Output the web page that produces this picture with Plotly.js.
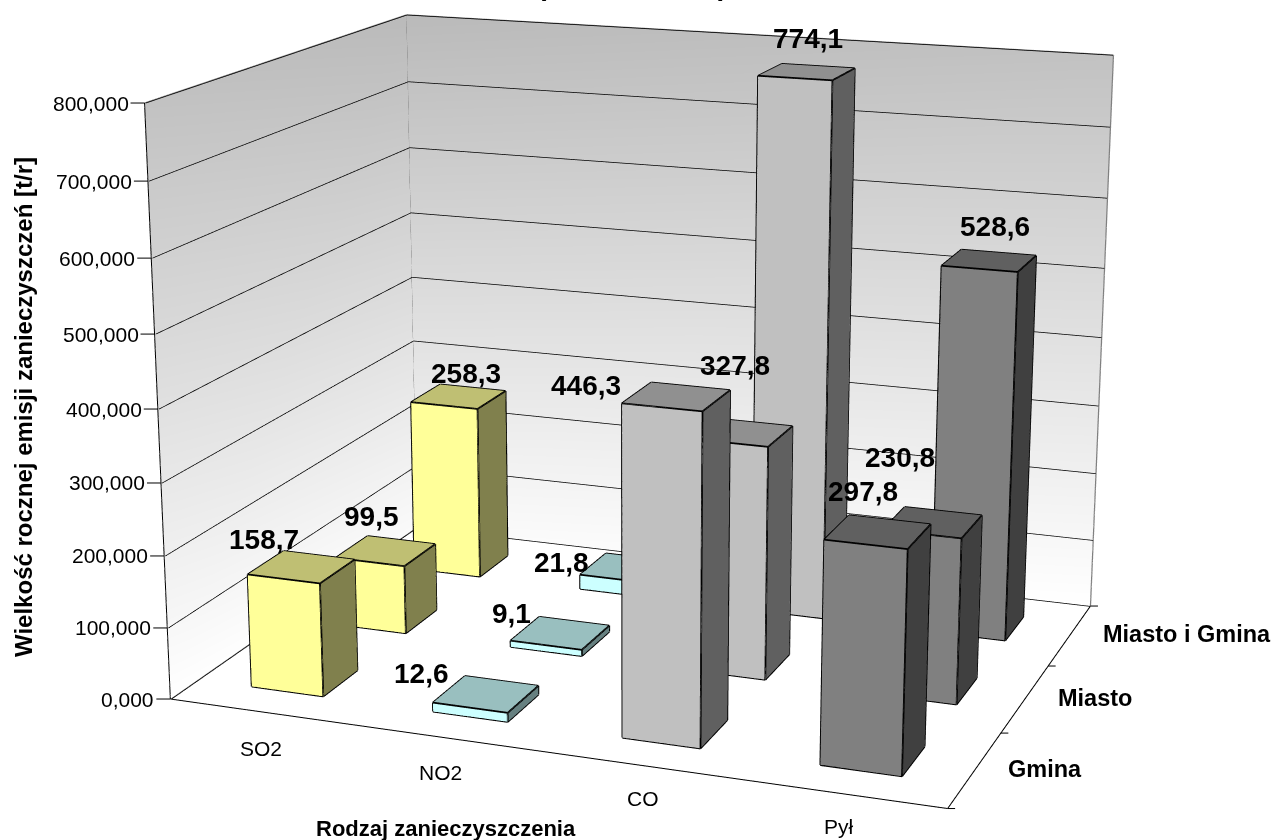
<!DOCTYPE html>
<html lang="pl">
<head>
<meta charset="utf-8">
<title>Wielkość rocznej emisji zanieczyszczeń</title>
<script src="https://cdn.plot.ly/plotly-3.0.1.min.js"></script>
<style>
  html, body { margin: 0; padding: 0; background: #fff; overflow: hidden; width: 1274px; height: 840px; }
  /* The tall plot area narrows the 45 degree view cone of the 3D scene. */
  #chart { position: absolute; left: 0; top: -880px; width: 1274px; height: 2600px; }
</style>
</head>
<body>
<div id="chart"></div>
<script>
// Pollutants along the front edge, municipalities along the depth axis.
const categories = ['SO2', 'NO2', 'CO', 'Pył'];
const seriesNames = ['Gmina', 'Miasto', 'Miasto i Gmina'];

const gmina = [158.7, 12.6, 446.3, 297.8];
const miasto = [99.5, 9.1, 327.8, 230.8];
const miastoIGmina = [258.3, 21.8, 774.1, 528.6];

const valueTicks = [0, 100, 200, 300, 400, 500, 600, 700, 800];
const valueTickLabels = ['0,000', '100,000', '200,000', '300,000', '400,000', '500,000', '600,000', '700,000', '800,000'];

const seriesValues = [gmina, miasto, miastoIGmina];
const comma = v => v.toFixed(1).replace('.', ',');

// Face colours of the bars, one set per pollutant.
const faceColors = [
  { front: '#FFFF99', top: '#BFBF73', side: '#80804D' },
  { front: '#CCFFFF', top: '#99BFBF', side: '#668080' },
  { front: '#C0C0C0', top: '#909090', side: '#606060' },
  { front: '#808080', top: '#606060', side: '#404040' }
];

// Pixel offset of each value label from the centre of its bar's top, [series][pollutant].
const labelShift = [
  [[-37, -27], [-64, -21], [-90, -11], [-15, -40]],
  [[-14, -34], [-49, -20], [-8, -67], [-33, -65]],
  [[7, -23], [-65, -5], [1, -33], [6, -34]]
];

const BAR_HALF = 0.2;
const FLAT = { ambient: 1, diffuse: 0, specular: 0, roughness: 1, fresnel: 0 };
const TEXT_FONT = 'Liberation Sans, Arial, sans-serif';

const traces = [];

// Back walls, shaded from grey at the top to white at the floor.
const nCat = categories.length, nSer = seriesNames.length, zMax = valueTicks[valueTicks.length - 1];
function wall(x, y, colors) {
  traces.push({
    type: 'mesh3d', x, y, z: [0, 0, zMax, zMax], i: [0, 0], j: [1, 2], k: [2, 3],
    vertexcolor: colors, lighting: FLAT, hoverinfo: 'skip', showscale: false
  });
}
wall([0, 0, 0, 0], [0, nSer, nSer, 0], ['#FFFFFF', '#FAFAFA', '#BABABA', '#C2C2C2']);
wall([0, nCat, nCat, 0], [nSer, nSer, nSer, nSer], ['#FAFAFA', '#FFFFFF', '#C2C2C2', '#BABABA']);

// Line traces built from [from, to] pairs of scene points.
function segmentsTrace(segments, color, width) {
  const lx = [], ly = [], lz = [];
  segments.forEach(seg => {
    lx.push(seg[0][0], seg[1][0], null); ly.push(seg[0][1], seg[1][1], null); lz.push(seg[0][2], seg[1][2], null);
  });
  return { type: 'scatter3d', mode: 'lines', x: lx, y: ly, z: lz,
    line: { color, width }, hoverinfo: 'skip', connectgaps: false };
}

// Gridlines lie just in front of both walls.
const WALL_GAP = 0.006;
const gridSegments = [];
valueTicks.forEach(t => {
  gridSegments.push([[WALL_GAP, 0, t], [WALL_GAP, nSer - WALL_GAP, t]]);
  gridSegments.push([[WALL_GAP, nSer - WALL_GAP, t], [nCat, nSer - WALL_GAP, t]]);
});
traces.push(segmentsTrace(gridSegments, '#000000', 1.5));

// One solid mesh per bar, plus its twelve outline edges.
const edgeSegments = [];
seriesValues.forEach((vals, s) => vals.forEach((v, c) => {
  const x0 = c + 0.5 - BAR_HALF, x1 = c + 0.5 + BAR_HALF;
  const y0 = s + 0.5 - BAR_HALF, y1 = s + 0.5 + BAR_HALF;
  const pts = [[x0,y0,0],[x1,y0,0],[x1,y1,0],[x0,y1,0],[x0,y0,v],[x1,y0,v],[x1,y1,v],[x0,y1,v]];
  const col = faceColors[c];
  traces.push({
    type: 'mesh3d',
    x: pts.map(p => p[0]), y: pts.map(p => p[1]), z: pts.map(p => p[2]),
    i: [0, 0, 1, 1, 4, 4, 0, 0, 3, 3],
    j: [1, 5, 2, 6, 5, 6, 3, 7, 2, 6],
    k: [5, 4, 6, 5, 6, 7, 7, 4, 6, 7],
    facecolor: [col.front, col.front, col.side, col.side, col.top, col.top, col.side, col.side, col.front, col.front],
    flatshading: true, lighting: FLAT, hoverinfo: 'skip', showscale: false
  });
  [[0,1],[1,2],[2,3],[3,0],[4,5],[5,6],[6,7],[7,4],[0,4],[1,5],[2,6],[3,7]]
    .forEach(e => edgeSegments.push([pts[e[0]], pts[e[1]]]));
}));
traces.push(segmentsTrace(edgeSegments, '#000000', 3.5));

// Frame of the chart box.
traces.push(segmentsTrace([
  [[0, 0, zMax], [0, nSer, zMax]], [[0, nSer, zMax], [nCat, nSer, zMax]],
  [[0, nSer, 0], [0, nSer, zMax]], [[nCat, nSer, 0], [nCat, nSer, zMax]],
  [[0, 0, 0], [0, nSer, 0]]
], '#808080', 2.5));
traces.push(segmentsTrace([
  [[0, 0, 0], [0, 0, zMax]], [[0, 0, 0], [nCat, 0, 0]], [[nCat, 0, 0], [nCat, nSer, 0]]
], '#000000', 2));

// Labels and tick marks anchored to points of the scene.
const sceneNotes = [];
const labelFont = { family: TEXT_FONT, size: 21, color: '#000' };
const boldFont = { family: TEXT_FONT, size: 23.5, color: '#000', weight: 700 };
const valueFont = { family: TEXT_FONT, size: 28, color: '#000', weight: 700 };
const TICK = '#000000';

valueTicks.forEach((t, i) => sceneNotes.push({
  x: 0, y: 0, z: t, text: valueTickLabels[i], font: labelFont,
  showarrow: true, arrowhead: 0, arrowwidth: 1, arrowcolor: TICK, ax: -14, ay: 0,
  xanchor: 'right', yanchor: 'middle'
}));

const catShift = [[1, 37], [-5, 35], [3, 33], [-4, 33]];
categories.forEach((name, c) => sceneNotes.push({
  x: c + 0.5, y: 0, z: 0, text: name, font: labelFont, showarrow: false,
  xshift: catShift[c][0], yshift: -catShift[c][1]
}));
for (let c = 0; c <= nCat; c++) sceneNotes.push({
  x: c, y: 0, z: 0, text: ' ', font: labelFont,
  showarrow: true, arrowhead: 0, arrowwidth: 1, arrowcolor: TICK, ax: 0, ay: 12
});

seriesNames.forEach((name, s) => sceneNotes.push({
  x: nCat, y: s + 0.5, z: 0, text: name, font: boldFont, showarrow: false,
  xanchor: 'left', xshift: 31, yshift: 1
}));
for (let s = 0; s <= nSer; s++) sceneNotes.push({
  x: nCat, y: s, z: 0, text: ' ', font: labelFont,
  showarrow: true, arrowhead: 0, arrowwidth: 1, arrowcolor: TICK, ax: 12, ay: 0
});

seriesValues.forEach((vals, s) => vals.forEach((v, c) => sceneNotes.push({
  x: c + 0.5, y: s + 0.5, z: v, text: comma(v), font: valueFont, showarrow: false,
  xshift: labelShift[s][c][0], yshift: -labelShift[s][c][1]
})));

// Paper coordinates for a position in the visible part of the tall plot area.
const H = 2600, TOP = 880;
const paperY = py => 1 - (py + TOP) / H;
const paperX = px => px / 1274;

const hiddenAxis = {
  showgrid: false, showline: false, zeroline: false, showticklabels: false, ticks: '',
  showbackground: false, showspikes: false, title: { text: '' }
};

const layout = {
  width: 1274, height: H,
  margin: { l: 0, r: 0, t: 0, b: 0, pad: 0 },
  paper_bgcolor: '#ffffff',
  showlegend: false,
  scene: {
    domain: { x: [0, 1], y: [0, 1] },
    bgcolor: 'rgba(0,0,0,0)',
    aspectmode: 'manual',
    aspectratio: { x: 1, y: 0.747, z: 0.752 },
    camera: {
      up: { x: 0, y: 0, z: 1 },
      center: { x: -0.00945, y: -0.02106, z: -0.0591 },
      eye: { x: 1.32695, y: -3.61426, z: 1.0296 },
      projection: { type: 'perspective' }
    },
    xaxis: Object.assign({}, hiddenAxis, { range: [0, nCat] }),
    yaxis: Object.assign({}, hiddenAxis, { range: [0, nSer] }),
    zaxis: Object.assign({}, hiddenAxis, { range: [0, zMax], tickmode: 'array', tickvals: valueTicks }),
    annotations: sceneNotes
  },
  annotations: [
    { xref: 'paper', yref: 'paper', x: paperX(23), y: paperY(407), xanchor: 'center', yanchor: 'middle',
      text: 'Wielkość rocznej emisji zanieczyszczeń [t/r]',
      textangle: -90, showarrow: false, font: { family: TEXT_FONT, size: 24, color: '#000', weight: 700 } },
    { xref: 'paper', yref: 'paper', x: paperX(446), y: paperY(829), xanchor: 'center', yanchor: 'middle',
      text: 'Rodzaj zanieczyszczenia',
      showarrow: false, font: { family: TEXT_FONT, size: 22, color: '#000', weight: 700 } },
    { xref: 'paper', yref: 'paper', x: paperX(542), y: paperY(-14), xanchor: 'center', yanchor: 'middle', text: '(',
      showarrow: false, font: { family: TEXT_FONT, size: 28, color: '#000', weight: 700 } },
    { xref: 'paper', yref: 'paper', x: paperX(722), y: paperY(-14), xanchor: 'center', yanchor: 'middle', text: ')',
      showarrow: false, font: { family: TEXT_FONT, size: 28, color: '#000', weight: 700 } }
  ]
};

Plotly.newPlot('chart', traces, layout, { displayModeBar: false, responsive: false });
</script>
</body>
</html>
